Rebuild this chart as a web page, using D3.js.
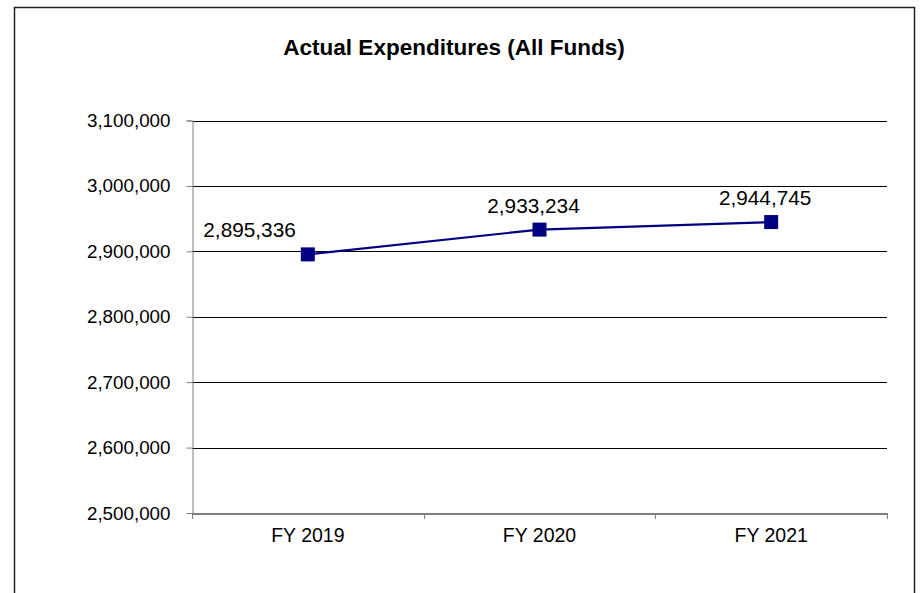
<!DOCTYPE html>
<html><head><meta charset="utf-8">
<script src="https://cdn.jsdelivr.net/npm/d3@7"></script>
<style>html,body{margin:0;padding:0;background:#fff;}svg{display:block;}</style>
</head><body>
<svg id="c" width="922" height="593"></svg>
<script>
const title = "Actual Expenditures (All Funds)";
const categories = ["FY 2019", "FY 2020", "FY 2021"];
const values = [2895336, 2933234, 2944745];
const yTicks = [2500000, 2600000, 2700000, 2800000, 2900000, 3000000, 3100000];

const svg = d3.select("#c");
const font = "Liberation Sans, Arial, sans-serif";
const L = 192, R = 887, T = 120.5, B = 513;

svg.append("rect").attr("x", 14.5).attr("y", 7.5).attr("width", 900).attr("height", 600)
  .attr("fill", "#fff").attr("stroke", "#222").attr("stroke-width", 1.5);

svg.append("text").attr("x", 454).attr("y", 55).attr("text-anchor", "middle")
  .attr("font-family", font).attr("font-weight", "bold").attr("font-size", 22.5)
  .text(title);

const x = d3.scaleBand().domain(categories).range([L, R]).padding(0);
const y = d3.scaleLinear().domain([2500000, 3100000]).range([B, T]);
const fmt = d3.format(",");

// gridlines
svg.append("g").selectAll("line").data(yTicks.slice(1)).join("line")
  .attr("x1", L).attr("x2", R)
  .attr("y1", d => Math.round(y(d)) + 0.5).attr("y2", d => Math.round(y(d)) + 0.5)
  .attr("stroke", "#000").attr("stroke-width", 1);

// y axis
const ya = svg.append("g").attr("transform", `translate(${L + 0.5},0)`)
  .call(d3.axisLeft(y).tickValues(yTicks).tickFormat(fmt).tickSize(6).tickPadding(16));
ya.select(".domain").attr("stroke", "#808080");
ya.selectAll(".tick line").attr("stroke", "#808080");
ya.selectAll(".tick text").attr("font-family", font).attr("font-size", 18.8).attr("fill", "#000");

// x axis
const xa = svg.append("g").attr("transform", `translate(0,${Math.round(B) + 0.5})`)
  .call(d3.axisBottom(x).tickSize(0).tickPadding(15));
xa.select(".domain").attr("stroke", "#000");
xa.selectAll(".tick text").attr("font-family", font).attr("font-size", 19.5).attr("fill", "#000");
svg.append("g").selectAll("line").data(categories.concat(["end"])).join("line")
  .attr("x1", (d, i) => Math.round(L + i * x.bandwidth()) + 0.5)
  .attr("x2", (d, i) => Math.round(L + i * x.bandwidth()) + 0.5)
  .attr("y1", B).attr("y2", B + 6).attr("stroke", "#808080");

// line
const cx = d => x(d) + x.bandwidth() / 2;
svg.append("path").datum(values)
  .attr("d", d3.line().x((d, i) => cx(categories[i])).y(d => y(d)))
  .attr("fill", "none").attr("stroke", "#000080").attr("stroke-width", 2.2);

svg.append("g").selectAll("rect").data(values).join("rect")
  .attr("x", (d, i) => cx(categories[i]) - 7).attr("y", d => y(d) - 7)
  .attr("width", 14).attr("height", 14).attr("fill", "#000080");

// labels
svg.append("g").selectAll("text").data(values).join("text")
  .attr("x", (d, i) => i === 0 ? cx(categories[i]) - 12 : cx(categories[i]) - 6)
  .attr("y", d => y(d) - 17)
  .attr("text-anchor", (d, i) => i === 0 ? "end" : "middle")
  .attr("font-family", font).attr("font-size", 20.8).attr("fill", "#000")
  .text(d => fmt(d));
</script>
</body></html>
